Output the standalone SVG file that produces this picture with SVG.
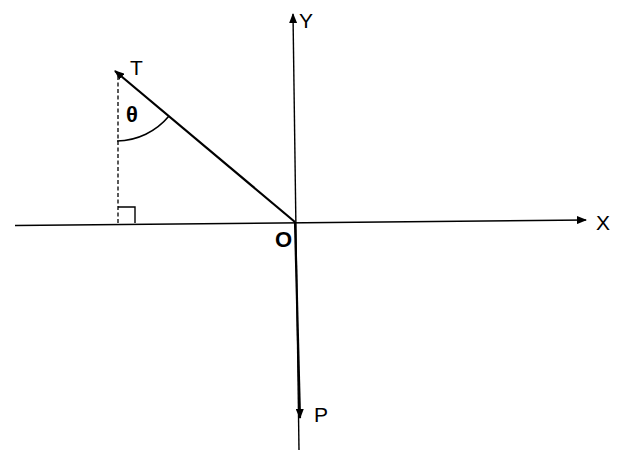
<svg xmlns="http://www.w3.org/2000/svg" width="636" height="467" viewBox="0 0 636 467">
<defs>
<marker id="ah" markerWidth="10" markerHeight="8" refX="9" refY="4" orient="auto" markerUnits="userSpaceOnUse">
<path d="M0,0 L10,4 L0,8 z" fill="#000"/>
</marker>
</defs>
<style>
.ln{stroke:#000;fill:none}
.t{font-family:"Liberation Sans",Arial,sans-serif;font-size:21px;fill:#000}
.b{font-weight:bold}
</style>
<rect width="636" height="467" fill="#fff"/>
<g id="connectors">
<line class="ln" x1="15" y1="225.5" x2="586" y2="220" stroke-width="1.6" marker-end="url(#ah)"/>
<line class="ln" x1="299" y1="450" x2="293" y2="14" stroke-width="1.4" marker-end="url(#ah)"/>
<line class="ln" x1="295" y1="222" x2="300" y2="418" stroke-width="2.2" marker-end="url(#ah)"/>
<line class="ln" x1="295" y1="222" x2="115" y2="71" stroke-width="2.2" marker-end="url(#ah)"/>
<line class="ln" x1="118" y1="223" x2="118" y2="76" stroke-width="1.3" stroke-dasharray="4,2.5"/>
<path class="ln" d="M118,207 H135 V223" stroke-width="1.4"/>
<path class="ln" d="M117,141 A69,69 0 0 0 169,116" stroke-width="1.6"/>
</g>
<g id="T"><text class="t" x="130" y="75">T</text></g>
<g id="Y"><text class="t" x="299" y="28">Y</text></g>
<g id="X"><text class="t" x="596" y="230">X</text></g>
<g id="O"><text class="t b" x="275" y="247" style="font-size:22px">O</text></g>
<g id="P"><text class="t" x="314" y="422">P</text></g>
<g id="theta"><text class="t b" x="126" y="122" style="font-size:22px">θ</text></g>
</svg>
